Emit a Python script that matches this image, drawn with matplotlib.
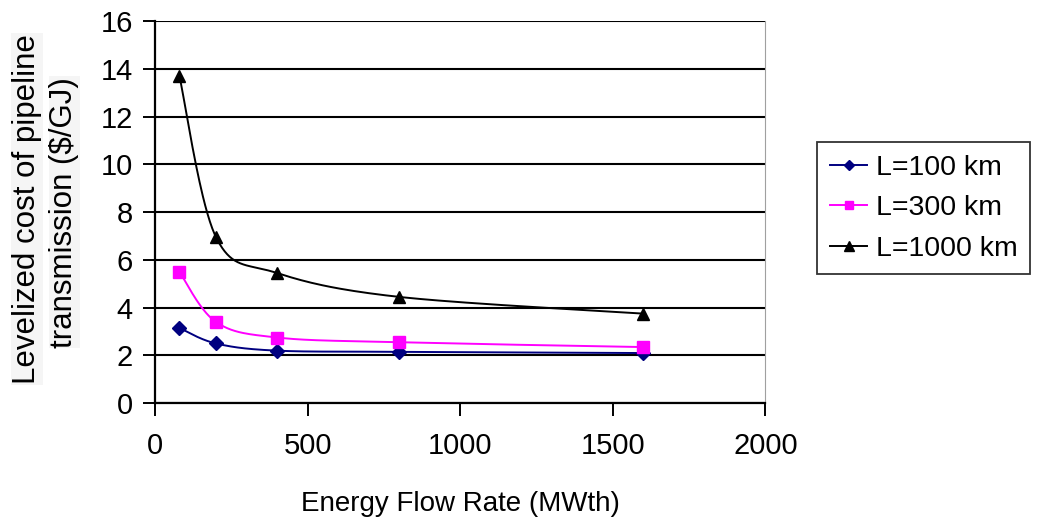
import numpy as np
import matplotlib
matplotlib.use('Agg')
import matplotlib.pyplot as plt
from matplotlib.lines import Line2D

# data
flow = [80, 200, 400, 800, 1600]
cost_100 = [3.15, 2.5, 2.2, 2.15, 2.1]
cost_300 = [5.5, 3.4, 2.75, 2.55, 2.35]
cost_1000 = [13.7, 6.95, 5.45, 4.45, 3.75]
labels = ['L=100 km', 'L=300 km', 'L=1000 km']

plt.rcParams['font.family'] = ['Liberation Sans', 'DejaVu Sans']


def smooth(x, y, n=40):
    # excel style smoothed line (catmull-rom as bezier)
    x = np.asarray(x, float)
    y = np.asarray(y, float)
    px = np.concatenate([[x[0]], x, [x[-1]]])
    py = np.concatenate([[y[0]], y, [y[-1]]])
    xs, ys = [], []
    t = np.linspace(0, 1, n)
    for i in range(1, len(px) - 2):
        p0 = np.array([px[i], py[i]])
        p3 = np.array([px[i + 1], py[i + 1]])
        c1 = p0 + (np.array([px[i + 1], py[i + 1]]) - np.array([px[i - 1], py[i - 1]])) / 6
        c2 = p3 - (np.array([px[i + 2], py[i + 2]]) - np.array([px[i], py[i]])) / 6
        b = (np.outer((1 - t) ** 3, p0) + np.outer(3 * (1 - t) ** 2 * t, c1)
             + np.outer(3 * (1 - t) * t ** 2, c2) + np.outer(t ** 3, p3))
        xs.extend(b[:, 0])
        ys.extend(b[:, 1])
    return xs, ys


fig = plt.figure(figsize=(10.4, 5.25), dpi=100)
ax = fig.add_axes([0.149, 0.232, 0.587, 0.728])

series = [(cost_100, '#000080', 'D', 7), (cost_300, '#ff00ff', 's', 8), (cost_1000, 'black', '^', 9)]
handles = []
for (vals, col, mk, ms), lab in zip(series, labels):
    sx, sy = smooth(flow, vals)
    ax.plot(sx, sy, color=col, lw=1.4)
    ax.plot(flow, vals, linestyle='none', marker=mk, color=col, markersize=ms)
    handles.append(Line2D([], [], color=col, lw=1.4, marker=mk, markersize=ms - 2, label=lab))

ax.set_xlim(0, 2000)
ax.set_ylim(0, 16)
ax.set_xticks(np.arange(0, 2001, 500))
ax.set_yticks(np.arange(0, 17, 2))
ax.yaxis.grid(True, color='black', lw=1.5)
ax.set_axisbelow(True)
ax.tick_params(direction='out', length=9, width=1.4, labelsize=21, color='black')
ax.tick_params(axis='x', pad=12)
ax.tick_params(axis='y', pad=7)
for s in ['left', 'bottom']:
    ax.spines[s].set_linewidth(1.6)
ax.spines['top'].set_visible(False)
ax.spines['right'].set_color('#a0a0a0')

ax.set_xlabel('Energy Flow Rate (MWth)', fontsize=20, labelpad=22)
fig.text(0.026, 0.602, 'Levelized cost of pipeline', rotation=90, fontsize=22.5,
         ha='center', va='center', bbox=dict(facecolor='#f5f5f5', edgecolor='none', pad=0.5))
fig.text(0.062, 0.596, 'transmission ($/GJ)', rotation=90, fontsize=22.5,
         ha='center', va='center', bbox=dict(facecolor='#f5f5f5', edgecolor='none', pad=0.5))

leg = fig.legend(handles=handles, loc='center left', bbox_to_anchor=(0.786, 0.603),
                 fontsize=20.5, frameon=True, fancybox=False, edgecolor='black',
                 handlelength=1.3, handletextpad=0.3, labelspacing=0.5, borderpad=0.45,
                 borderaxespad=0)
leg.get_frame().set_linewidth(1.3)

fig.savefig('out.png', dpi=100)
